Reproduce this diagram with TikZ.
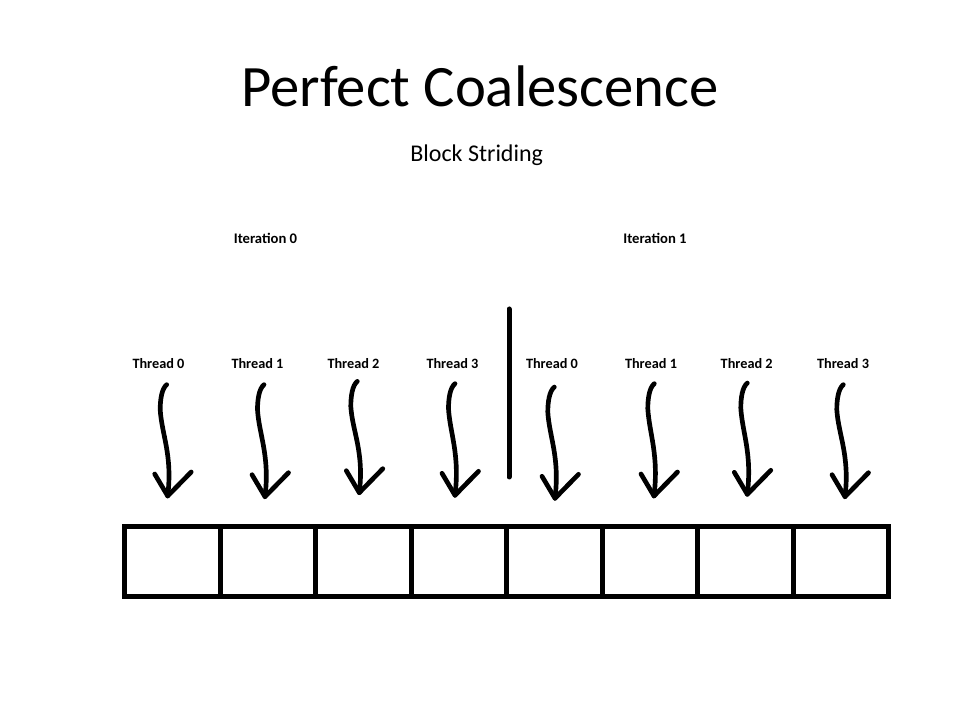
\documentclass[tikz,border=0pt]{standalone}
\usepackage{fontspec}
\setmainfont{Carlito}
\begin{document}
\begin{tikzpicture}[x=.75pt,y=.75pt,
  lbl/.style={font=\bfseries\fontsize{10.7}{12}\selectfont, inner sep=0, anchor=base},
  squig/.style={line width=3.5pt, line cap=round, line join=round},
  cell/.style={draw, line width=3.75pt, minimum width=71.6pt, minimum height=52.7pt, inner sep=0}]
\useasboundingbox (0,0) rectangle (960,720);
\node[anchor=base, font=\fontsize{44}{50}\selectfont] (title) at (480,613.3) {Perfect Coalescence};
\node[anchor=base, font=\fontsize{18}{22}\selectfont] (sub) at (476.7,558.3) {Block Striding};
\node[lbl, font=\bfseries\fontsize{11}{13}\selectfont] (iter0) at (265.5,476.7) {Iteration 0};
\node[lbl, font=\bfseries\fontsize{11}{13}\selectfont] (iter1) at (655,476.7) {Iteration 1};
\draw[line width=3.75pt, line cap=round] (509,411) -- (509,243);
\foreach \i/\n/\cx/\d/\h/\tx/\ty in {0/0/158.5/8.2/15.3/167.7/224, 1/1/257.5/6.5/15.3/265/223.3,
    2/2/353.5/3.8/12/359.3/227.3, 3/3/452.5/2.5/14.3/455/224.7, 4/0/552/2.3/17.7/555/221.7,
    5/1/651/3.3/14.3/654/224, 6/2/746.7/0.6/13.7/747.3/225.7, 7/3/843/0.3/15.3/845/223.3}
{
  \node[lbl] (t\i) at (\cx,351) {Thread \n};
  \coordinate (tip\i) at (\tx,\ty);
  \draw[squig] (t\i.south) ++(\d,-\h) .. controls +(-5,-4) and +(0,10) .. ++(-6.5,-25)
                                      .. controls +(1.5,-25) and +(5,41) .. (tip\i);
  \draw[squig] (tip\i) ++(-13,22) -- (tip\i) -- ++(23.5,24);
}
\foreach \j in {0,...,7}
  \node[cell] (c\j) at (172.53+95.46*\j,158.35) {};
\end{tikzpicture}
\end{document}
